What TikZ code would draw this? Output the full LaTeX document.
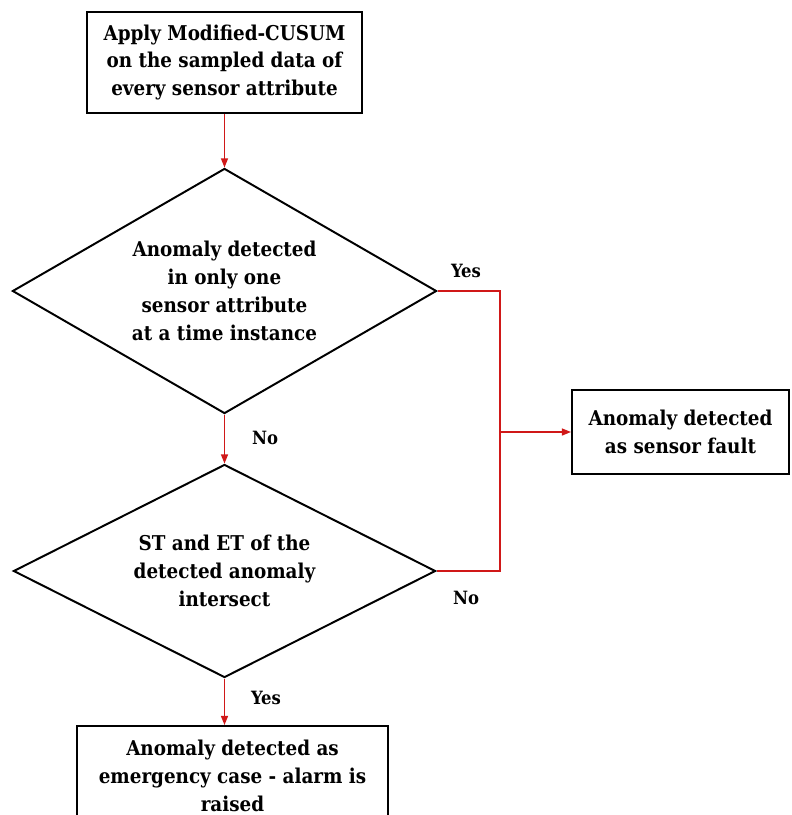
\documentclass[tikz,border=0pt]{standalone}
\usepackage{fontspec}
\setmainfont{DejaVu Serif Condensed}
\usepackage{xcolor}
\usepackage{tikz}
\usetikzlibrary{shapes.geometric, arrows.meta, calc}
\definecolor{flowred}{RGB}{208,24,24}

\begin{document}
\begin{tikzpicture}[x=0.025cm, y=-0.025cm,
    txt/.style={font=\bfseries\fontsize{14.5}{19.8}\selectfont, align=center},
    procbox/.style={txt, draw=black, line width=1.4pt, rectangle, inner sep=0pt},
    decision/.style={txt, draw=black, line width=1.4pt, diamond, inner sep=0pt},
    flow/.style={flowred, line width=1pt, -{Triangle[length=6.5pt,width=5pt]}},
    redline/.style={flowred, line width=1pt},
    lbl/.style={font=\bfseries\fontsize{13}{15}\selectfont}]
    % Frame
    \clip (0,0) rectangle (791,815);
    % Blocks
    \node[procbox, minimum width=6.875cm, minimum height=2.525cm] (apply) at (224.5,62.5)
      {Apply Modified-CUSUM\\on the sampled data of\\every sensor attribute};
    \node[decision, aspect=1.73, minimum width=10.6cm, minimum height=6.125cm] (single) at (224.5,291)
      {Anomaly detected\\in only one\\sensor attribute\\at a time instance};
    \node[decision, aspect=1.98, minimum width=10.55cm, minimum height=5.325cm] (overlap) at (224.5,571)
      {ST and ET of the\\detected anomaly\\intersect};
    \node[procbox, minimum width=5.425cm, minimum height=2.1cm] (fault) at (680.5,432)
      {Anomaly detected\\as sensor fault};
    \node[procbox, minimum width=7.775cm, minimum height=2.5cm] (alarm) at (232.5,776)
      {Anomaly detected as\\emergency case - alarm is\\raised};
    % Junction on the right
    \coordinate (bus) at (500,432);
    % Connectors
    \draw[flow] (apply.south) -- (single.north);
    \draw[flow] (single.south) -- (overlap.north);
    \draw[flow] (overlap.south) -- (overlap.south |- alarm.north);
    \draw[redline] (single.east) -| (bus) |- (overlap.east);
    \draw[flow] (bus) -- (fault.west);
    % Branch labels
    \node[lbl] (yesone) at (466,271) {Yes};
    \node[lbl] (noone) at (265,438) {No};
    \node[lbl] (notwo) at (466,598) {No};
    \node[lbl] (yestwo) at (266,698) {Yes};
\end{tikzpicture}
\end{document}
